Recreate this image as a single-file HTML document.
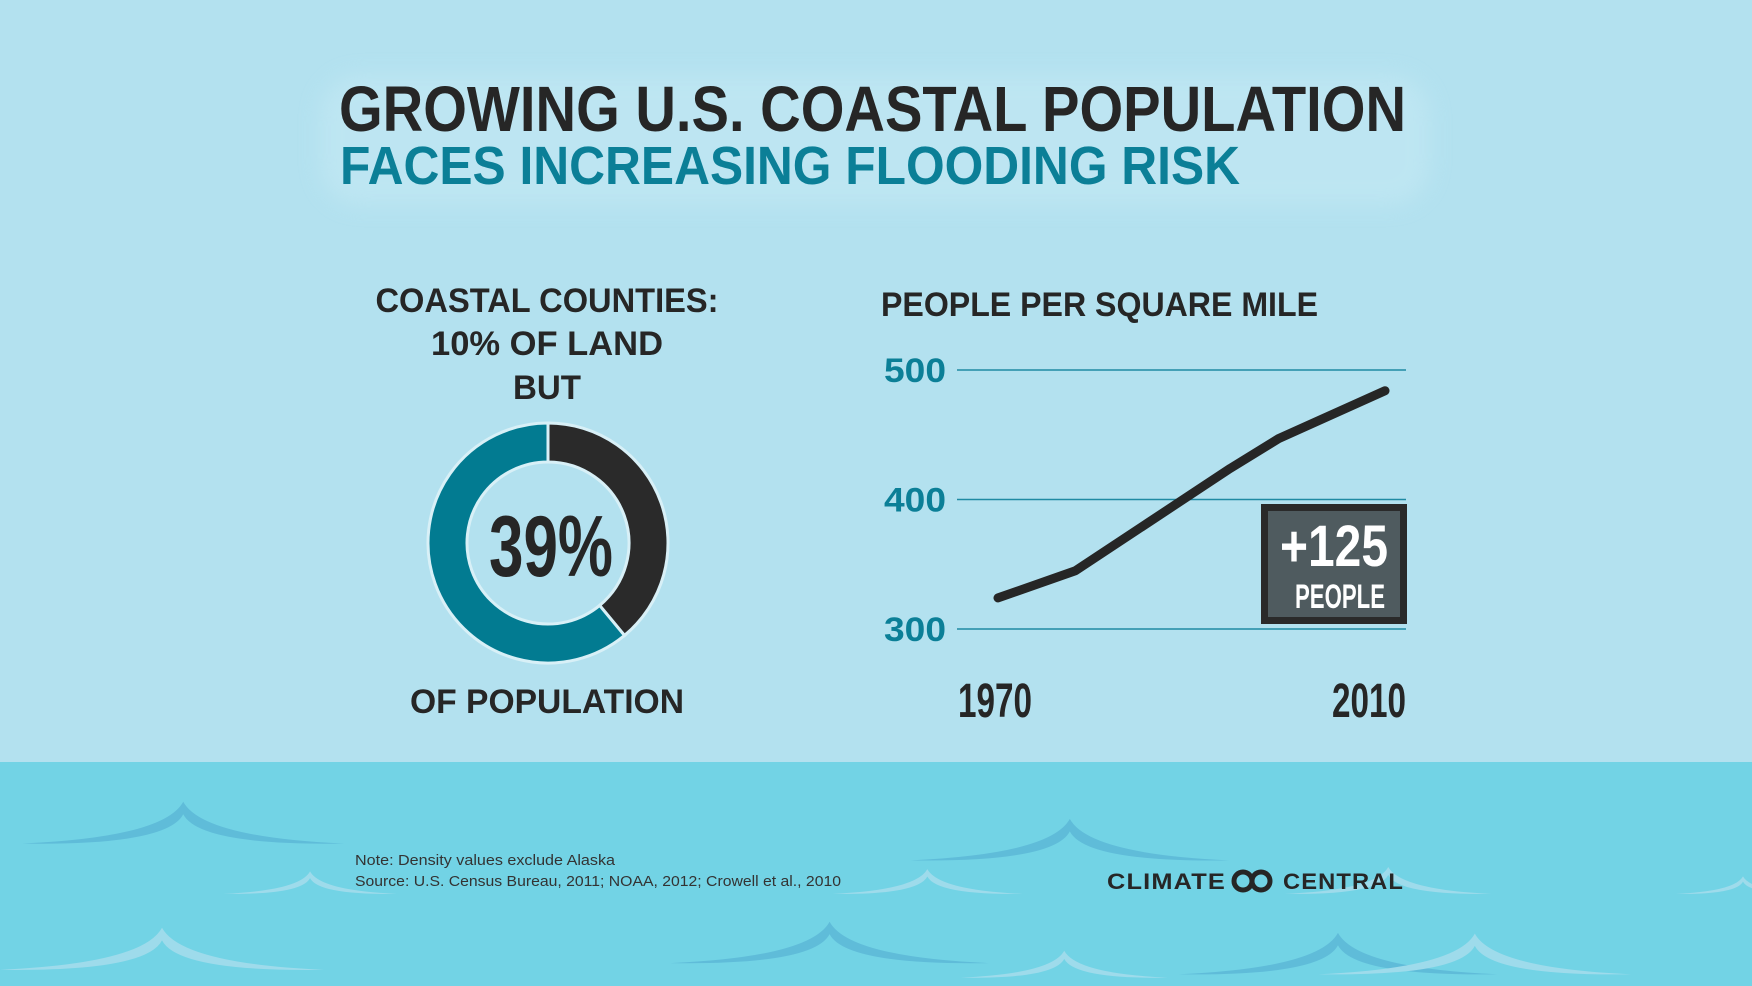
<!DOCTYPE html>
<html><head><meta charset="utf-8">
<style>
html,body{margin:0;padding:0}
body{width:1752px;height:986px;overflow:hidden;background:#b3e1ef;font-family:"Liberation Sans",sans-serif}
svg{display:block}
</style></head>
<body>
<svg width="1752" height="986" viewBox="0 0 1752 986">
  <defs>
    <filter id="glow" x="-10%" y="-30%" width="120%" height="160%">
      <feGaussianBlur stdDeviation="10"/>
    </filter>
  </defs>
  <rect x="0" y="0" width="1752" height="762" fill="#b3e1ef"/>
  <rect x="0" y="762" width="1752" height="224" fill="#72d3e5"/>
  <g id="waves"></g>

  <rect x="320" y="75" width="1110" height="130" rx="40" fill="#c4e9f4" filter="url(#glow)" opacity="0.6"/>
  <text x="339" y="131" font-size="64" font-weight="bold" fill="#262626" textLength="1067" lengthAdjust="spacingAndGlyphs">GROWING U.S. COASTAL POPULATION</text>
  <text x="340" y="184" font-size="54" font-weight="bold" fill="#0b7f97" textLength="900" lengthAdjust="spacingAndGlyphs">FACES INCREASING FLOODING RISK</text>

  <g font-weight="bold" fill="#262626" text-anchor="middle" font-size="34">
    <text x="547" y="312" textLength="343" lengthAdjust="spacingAndGlyphs">COASTAL COUNTIES:</text>
    <text x="547" y="355" textLength="232" lengthAdjust="spacingAndGlyphs">10% OF LAND</text>
    <text x="547" y="399" textLength="68" lengthAdjust="spacingAndGlyphs">BUT</text>
    <text x="547" y="713" textLength="274" lengthAdjust="spacingAndGlyphs">OF POPULATION</text>
  </g>
  <g id="donut"></g>
  <text x="551" y="576" text-anchor="middle" font-size="86" font-weight="bold" fill="#262626" textLength="124" lengthAdjust="spacingAndGlyphs">39%</text>

  <text x="881" y="316" font-size="34" font-weight="bold" fill="#262626" textLength="437" lengthAdjust="spacingAndGlyphs">PEOPLE PER SQUARE MILE</text>
  <g id="chart"></g>

  <text x="355" y="865" font-size="15" fill="#333" textLength="260" lengthAdjust="spacingAndGlyphs">Note: Density values exclude Alaska</text>
  <text x="355" y="886" font-size="15" fill="#333" textLength="486" lengthAdjust="spacingAndGlyphs">Source: U.S. Census Bureau, 2011; NOAA, 2012; Crowell et al., 2010</text>
  <g>
    <text x="1107" y="889" font-size="22" font-weight="bold" fill="#262626" letter-spacing="1" textLength="119" lengthAdjust="spacingAndGlyphs">CLIMATE</text>
    <circle cx="1243" cy="881" r="9" fill="none" stroke="#262626" stroke-width="5"/>
    <circle cx="1261" cy="881" r="9" fill="none" stroke="#262626" stroke-width="5"/>
    <text x="1283" y="889" font-size="22" font-weight="bold" fill="#262626" letter-spacing="1" textLength="121" lengthAdjust="spacingAndGlyphs">CENTRAL</text>
  </g>
</svg>
<script>
const NS='http://www.w3.org/2000/svg';
// ---- donut data ----
const donutLabels=['coastal','other'];
const donutValues=[39,61];
// ---- line chart data ----
const years=[1970,1978,1994,1999,2010];
const density=[324,345,424,447,484];
const yTicks=[300,400,500];
const xTickLabels=['1970','2010'];
const badgeText=['+125','PEOPLE'];

function mk(tag,attrs,parent){const e=document.createElementNS(NS,tag);for(const k in attrs)e.setAttribute(k,attrs[k]);parent.appendChild(e);return e;}

// waves [left, base y, width, color]
const waves=document.getElementById('waves');
const S=1.1173;
const waveDefs=[[20,755,288,'#5fbcd9'],[815,770,285,'#5fbcd9'],[600,862,285,'#5fbcd9'],[1055,872,285,'#5fbcd9'],[200,800,155,'#9edbeb'],[745,800,170,'#9edbeb'],[1150,800,185,'#9edbeb'],[0,868,290,'#9edbeb'],[860,875,185,'#9edbeb'],[1180,872,280,'#9edbeb'],[1500,800,120,'#9edbeb']];
waveDefs.forEach(w=>{let [x,y,wd,c]=w;x*=S;y*=S;wd*=S;const h=wd*0.13;const m=x+wd/2;
 const d=`M${x},${y} Q${m-wd*0.06},${y-h*0.15} ${m},${y-h} Q${m+wd*0.06},${y-h*0.15} ${x+wd},${y} Q${m+wd*0.05},${y+h*0.05} ${m},${y-h*0.7} Q${m-wd*0.05},${y+h*0.05} ${x},${y}Z`;
 const p=mk('path',{d:d,fill:c},waves);
 
 
});

// donut
const dg=document.getElementById('donut');
const cx=548,cy=543,R=120,r=81;
const colors=['#2a2a2a','#027b91'];
const tot=donutValues.reduce((a,b)=>a+b,0);
let a0=0;
donutValues.forEach((v,i)=>{
 const a1=a0+v/tot*2*Math.PI;
 const pt=(rad,a)=>[cx+rad*Math.sin(a),cy-rad*Math.cos(a)];
 const [x1,y1]=pt(R,a0),[x2,y2]=pt(R,a1),[x3,y3]=pt(r,a1),[x4,y4]=pt(r,a0);
 const lg=(a1-a0)>Math.PI?1:0;
 const p=mk('path',{d:`M${x1},${y1} A${R},${R} 0 ${lg} 1 ${x2},${y2} L${x3},${y3} A${r},${r} 0 ${lg} 0 ${x4},${y4}Z`,fill:colors[i],stroke:'#d8f0f7','stroke-width':3},dg);
 
 
 a0=a1;
});

// line chart
const cg=document.getElementById('chart');
const X0=998,X1=1385,gx0=957,gx1=1406;
const xs=yr=>X0+(yr-1970)/(2010-1970)*(X1-X0);
const ys=v=>629-(v-300)/(500-300)*(629-370);
yTicks.forEach(t=>{
 const l=mk('line',{x1:gx0,x2:gx1,y1:ys(t),y2:ys(t),stroke:'#1f8aa3','stroke-width':1.5},cg);
 
 
 const tx=mk('text',{x:884,y:ys(t)+12,'font-size':34,'font-weight':'bold',fill:'#0b7f97',textLength:62,lengthAdjust:'spacingAndGlyphs'},cg);
 tx.textContent=t;
 
 
});
const line=mk('polyline',{points:years.map((y,i)=>xs(y)+','+ys(density[i])).join(' '),fill:'none',stroke:'#262626','stroke-width':9,'stroke-linecap':'round','stroke-linejoin':'round'},cg);


const xlx=[995,1369];
xTickLabels.forEach((s,i)=>{
 const t=mk('text',{x:xlx[i],y:717,'text-anchor':'middle','font-size':48,'font-weight':'bold',fill:'#262626',textLength:74,lengthAdjust:'spacingAndGlyphs'},cg);
 t.textContent=s;
 
 
});
const bg=mk('g',{},cg);


mk('rect',{x:1261,y:504,width:146,height:120,fill:'#2a2a2a'},bg);
mk('rect',{x:1268,y:511,width:132,height:106,fill:'#4f5b5f'},bg);
const b1=mk('text',{x:1334,y:566,'text-anchor':'middle','font-size':58,'font-weight':'bold',fill:'#fff',textLength:108,lengthAdjust:'spacingAndGlyphs'},bg);
b1.textContent=badgeText[0];
const b2=mk('text',{x:1385,y:608,'text-anchor':'end','font-size':34,'font-weight':'bold',fill:'#fff',textLength:90,lengthAdjust:'spacingAndGlyphs'},bg);
b2.textContent=badgeText[1];
</script>
</body></html>
